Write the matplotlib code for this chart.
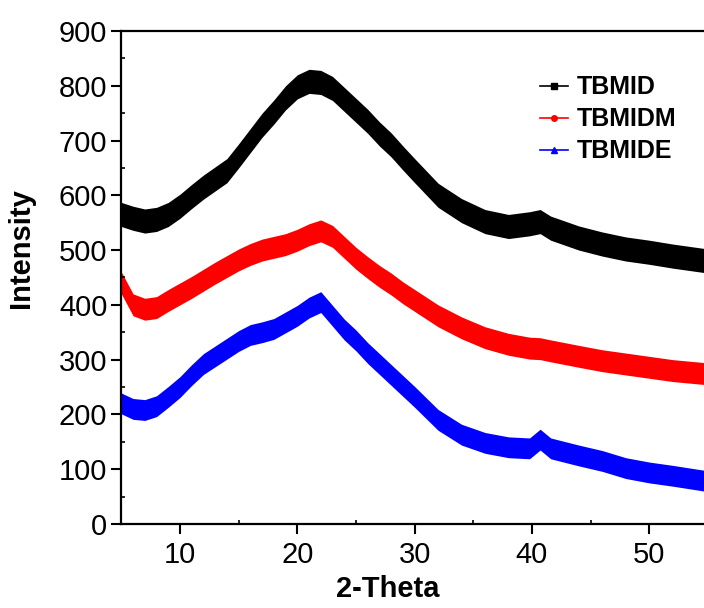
import numpy as np
import matplotlib
matplotlib.use('Agg')
import matplotlib.pyplot as plt
from matplotlib.lines import Line2D

# XRD patterns (centre of the noisy trace)
two_theta = [5, 6, 7, 8, 9, 10, 11, 12, 13, 14, 15, 16, 17, 18, 19, 20, 21, 22,
             23, 24, 25, 26, 27, 28, 29, 30, 32, 34, 36, 38, 39.8, 40.7, 41.6,
             44, 46, 48, 50, 52, 55]
tbmid = [565, 558, 553, 556, 565, 580, 598, 615, 630, 645, 672, 700, 728, 752,
         778, 798, 808, 806, 795, 775, 755, 735, 712, 692, 668, 645, 600, 572,
         552, 543, 548, 552, 540, 522, 511, 502, 496, 489, 480]
tbmidm = [440, 400, 392, 395, 408, 420, 432, 445, 458, 470, 482, 492, 500, 505,
          510, 518, 528, 535, 525, 505, 485, 468, 452, 438, 422, 408, 380, 358,
          340, 328, 321, 320, 316, 306, 298, 292, 286, 280, 274]
tbmide = [220, 210, 208, 215, 232, 250, 272, 292, 306, 320, 334, 345, 350, 356,
          368, 380, 395, 405, 380, 355, 335, 312, 292, 272, 252, 232, 190, 163,
          148, 140, 138, 154, 138, 125, 115, 102, 94, 88, 78]
# half-width of the noise band of each trace
spread = {'TBMID': 22, 'TBMIDM': 20, 'TBMIDE': 19}

labels = ['TBMID', 'TBMIDM', 'TBMIDE']
colors = ['black', '#ff0000', '#0000ff']
markers = ['s', 'o', '^']

plt.rcParams['font.family'] = ['Liberation Sans', 'DejaVu Sans']

fig = plt.figure(figsize=(7.04, 6.08), dpi=100)
ax = fig.add_axes([0.1724, 0.1382, 0.8331, 0.8109])

x = np.array(two_theta)
for lab, y, c in zip(labels, [tbmid, tbmidm, tbmide], colors):
    y = np.array(y)
    s = spread[lab]
    ax.fill_between(x, y - s, y + s, color=c, lw=0)
    ax.plot(x, y, color=c, lw=1)

ax.set_xlim(5, 55)
ax.set_ylim(0, 900)
ax.set_xticks([10, 20, 30, 40, 50])
ax.set_xticks(np.arange(5, 56, 5), minor=True)
ax.set_yticks(np.arange(0, 901, 100))
ax.set_yticks(np.arange(50, 900, 100), minor=True)
ax.tick_params(which='major', direction='out', length=7, width=1.5,
               labelsize=21, pad=3)
ax.tick_params(which='minor', direction='in', length=3, width=1.2)
ax.tick_params(axis='x', which='major', pad=5)
for sp in ax.spines.values():
    sp.set_linewidth(1.6)

ax.set_xlabel('2-Theta', fontsize=21, fontweight='bold')
ax.set_ylabel('Intensity', fontsize=21, fontweight='bold')
ax.xaxis.set_label_coords(0.455, -0.103)
ax.yaxis.set_label_coords(-0.147, 0.56)

handles = [Line2D([], [], color=c, marker=m, markersize=4, lw=1.2)
           for c, m in zip(colors, markers)]
ax.legend(handles, labels, loc='upper left', bbox_to_anchor=(0.697, 0.93),
          frameon=False, handlelength=1.1, handletextpad=0.35,
          labelspacing=0.32, borderaxespad=0,
          prop={'weight': 'bold', 'size': 18})

fig.savefig('out.png', dpi=100)
